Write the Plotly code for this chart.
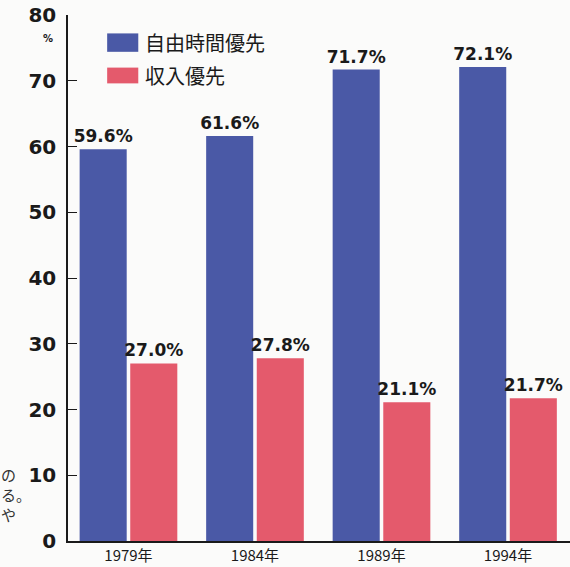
import plotly.graph_objects as go

years = ["1979年", "1984年", "1989年", "1994年"]
free_time = [59.6, 61.6, 71.7, 72.1]
income = [27.0, 27.8, 21.1, 21.7]
series_names = ["自由時間優先", "収入優先"]
y_ticks = [0, 10, 20, 30, 40, 50, 60, 70, 80]

BLUE = "#4a59a6"
RED = "#e45a6c"
BG = "#fbfbfa"
TXT = "#1a1a1a"

label_font = dict(family="DejaVu Sans", size=17, color=TXT, weight="bold")

fig = go.Figure()
fig.add_trace(go.Bar(
    x=list(range(len(years))), y=free_time, name=series_names[0],
    marker=dict(color=BLUE, line=dict(width=0)),
    text=[f"{v:.1f}%" for v in free_time], textposition="outside",
    textfont=label_font, cliponaxis=False, constraintext="none",
))
fig.add_trace(go.Bar(
    x=list(range(len(years))), y=income, name=series_names[1],
    marker=dict(color=RED, line=dict(width=0)),
    text=[f"{v:.1f}%" for v in income], textposition="outside",
    textfont=label_font, cliponaxis=False, constraintext="none",
))

fig.update_layout(
    width=570, height=567,
    margin=dict(l=68, r=0, t=15, b=26),
    paper_bgcolor=BG, plot_bgcolor=BG,
    barmode="group", bargap=0.2, bargroupgap=0.07,
    showlegend=False,
    uniformtext=dict(mode=False),
    xaxis=dict(
        range=[-0.478, 3.49],
        tickmode="array", tickvals=list(range(len(years))), ticktext=years,
        tickfont=dict(family="Noto Sans CJK JP", size=15, color=TXT),
        showline=True, linecolor=TXT, linewidth=1.5,
        showgrid=False, zeroline=False, ticks="", ticklabelstandoff=0,
    ),
    yaxis=dict(
        range=[0, 80],
        tickmode="array", tickvals=y_ticks,
        tickfont=dict(family="DejaVu Sans", size=20, color=TXT, weight="bold"),
        showline=True, linecolor=TXT, linewidth=1.5,
        ticks="inside", ticklen=9, tickwidth=1.2, tickcolor=TXT,
        showgrid=False, zeroline=False, ticklabelstandoff=6,
    ),
)

# "%" unit under the 80 label
fig.add_annotation(text="%", xref="paper", yref="paper", x=-0.04, y=0.97,
                   xanchor="center", yanchor="top", showarrow=False,
                   font=dict(family="DejaVu Sans", size=10, color=TXT, weight="bold"))

# custom legend swatches
legend_items = [(series_names[0], BLUE, 0.965, 0.930), (series_names[1], RED, 0.900, 0.870)]
for name, col, y1, y0 in legend_items:
    fig.add_shape(type="rect", xref="paper", yref="paper",
                  x0=0.078, x1=0.140, y0=y0, y1=y1,
                  fillcolor=col, line=dict(width=0))
    fig.add_annotation(text=name, xref="paper", yref="paper",
                       x=0.150, y=(y0 + y1) / 2, xanchor="left", yanchor="middle",
                       showarrow=False,
                       font=dict(family="Noto Sans CJK JP", size=20, color=TXT))

# stray page text at left edge
for t, yy in [("の", 474), ("る。", 494), ("や", 514)]:
    fig.add_annotation(text=t, xref="paper", yref="paper",
                       x=-68 / 502, y=(541 - yy) / 526, xanchor="left", yanchor="middle",
                       showarrow=False, xshift=-1,
                       font=dict(family="Noto Sans CJK JP", size=15, color="#333"))

fig.write_html("out.html")
